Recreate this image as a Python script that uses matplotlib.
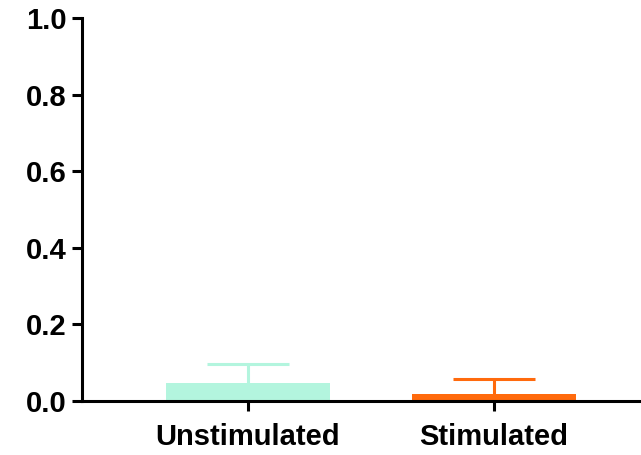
import matplotlib.pyplot as plt

categories = ["Unstimulated", "Stimulated"]
means = [0.046, 0.018]
errors = [0.051, 0.039]
colors = ["#b3f5de", "#ff6a0d"]
yticks = [0.0, 0.2, 0.4, 0.6, 0.8, 1.0]

plt.rcParams['font.family'] = ['Liberation Sans', 'DejaVu Sans']
plt.rcParams['font.weight'] = 'bold'

fig = plt.figure(figsize=(6.41, 4.55), dpi=100)
ax = fig.add_axes([82 / 641, 1 - 401 / 455, 1 - 82 / 641, (401 - 18) / 455])

bar_w = 0.667
x = range(len(categories))
for i, (m, e, c) in enumerate(zip(means, errors, colors)):
    ax.bar(i, m, width=bar_w, color=c, zorder=2)
    # upper error only: stem plus cap half the bar width
    ax.vlines(i, m, m + e, colors=c, linewidth=2.2, zorder=2)
    ax.hlines(m + e, i - bar_w / 4, i + bar_w / 4, colors=c, linewidth=2.2, zorder=2)

ax.set_xlim(-0.675, 1.6)
ax.set_ylim(0, 1.0)
ax.set_yticks(yticks)
ax.set_yticklabels([f"{t:.1f}" for t in yticks])
ax.set_xticks(list(x))
ax.set_xticklabels(categories)

for side in ['top', 'right']:
    ax.spines[side].set_visible(False)
for side in ['left', 'bottom']:
    ax.spines[side].set_linewidth(2.2)
    ax.spines[side].set_zorder(3)
ax.tick_params(axis='both', width=2.2, length=7, labelsize=21, pad=4)
ax.tick_params(axis='x', pad=8.5)

fig.savefig("out.png", dpi=100)
